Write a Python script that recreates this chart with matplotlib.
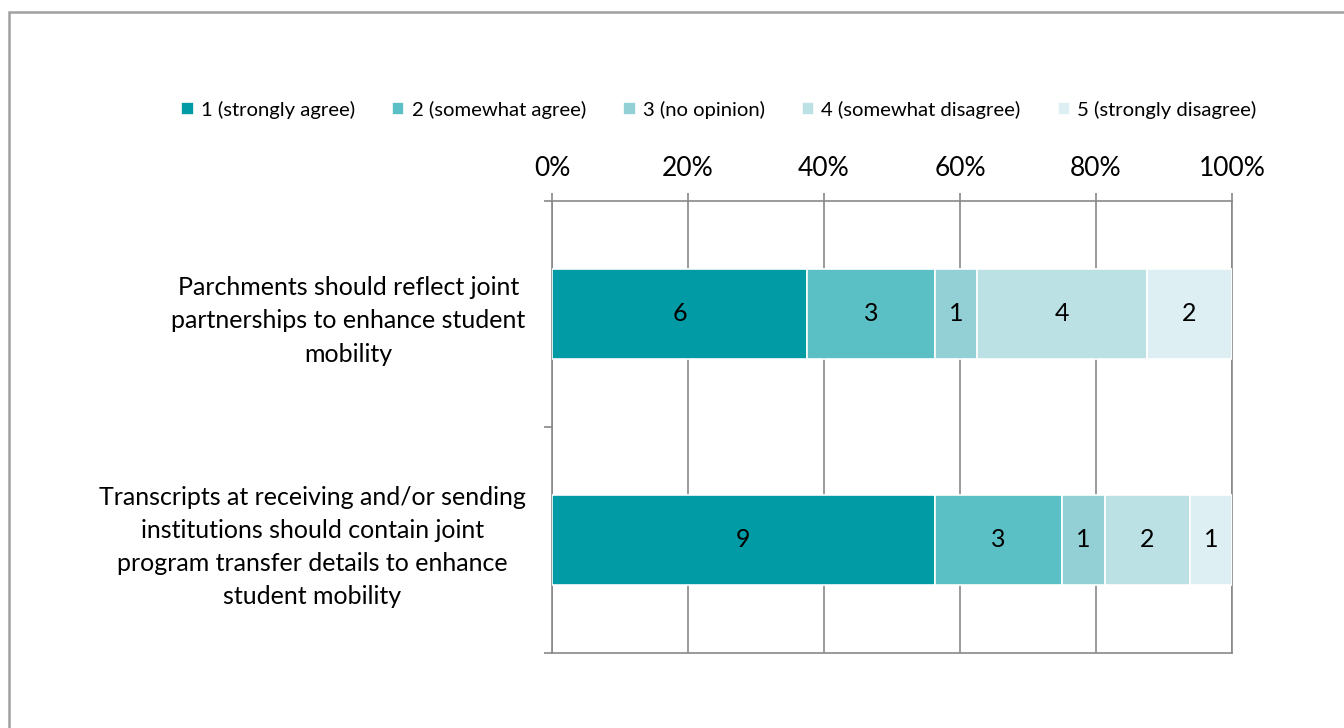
import matplotlib.pyplot as plt
from matplotlib.patches import Rectangle
import numpy as np

plt.rcParams["font.family"] = ["Lato", "DejaVu Sans"]

statements = [
    "Parchments should reflect joint\npartnerships to enhance student\nmobility",
    "Transcripts at receiving and/or sending\ninstitutions should contain joint\nprogram transfer details to enhance\nstudent mobility",
]
responses = [
    "1 (strongly agree)",
    "2 (somewhat agree)",
    "3 (no opinion)",
    "4 (somewhat disagree)",
    "5 (strongly disagree)",
]
# response counts per statement, one list per answer option
counts = [
    [6, 9],
    [3, 3],
    [1, 1],
    [4, 2],
    [2, 1],
]
colors = ["#009BA5", "#5BBFC6", "#93D0D6", "#BBE1E4", "#DDEFF2"]

counts = np.array(counts, dtype=float)
totals = counts.sum(axis=0)
shares = counts / totals * 100

fig = plt.figure(figsize=(13.44, 7.28), dpi=100)
ax = fig.add_axes([0.4107, 0.103, 0.506, 0.621])

y = np.arange(len(statements))
left = np.zeros(len(statements))
for i, label in enumerate(responses):
    bars = ax.barh(y, shares[i], left=left, height=0.4, color=colors[i],
                   edgecolor="white", linewidth=1.2, label=label, zorder=3)
    for rect, n in zip(bars, counts[i]):
        ax.text(rect.get_x() + rect.get_width() / 2, rect.get_y() + rect.get_height() / 2,
                f"{int(n)}", ha="center", va="center", fontsize=18, color="black", zorder=4)
    left += shares[i]

ax.set_xlim(0, 100)
ax.set_ylim(1.5, -0.5)
ax.xaxis.tick_top()
ax.set_xticks(np.arange(0, 101, 20))
ax.set_xticklabels([f"{v}%" for v in range(0, 101, 20)], fontsize=19)
ax.tick_params(axis="x", which="major", direction="out", length=6, width=1.2,
               color="#898989", pad=8)
ax.grid(axis="x", color="#898989", linewidth=1.2, zorder=0)

ax.set_yticks(y)
ax.set_yticklabels(statements, fontsize=18, multialignment="center", linespacing=1.53)
ax.set_yticks([-0.5, 0.5, 1.5], minor=True)
ax.tick_params(axis="y", which="major", length=0, pad=19)
ax.tick_params(axis="y", which="minor", length=6, width=1.2, color="#898989")

for spine in ax.spines.values():
    spine.set_color("#898989")
    spine.set_linewidth(1.2)

fig.legend(loc="center", bbox_to_anchor=(0.535, 0.849), ncol=5, frameon=False,
           fontsize=14.6, handlelength=0.6, handleheight=0.6, handletextpad=0.35,
           columnspacing=1.85)

# outer chart frame, open past the right and bottom edges
fig.patches.append(Rectangle((9 / 1344, -0.1), 1.2, 1.1 - 12 / 728,
                             transform=fig.transFigure, fill=False,
                             edgecolor="#A0A0A0", linewidth=1.8))

fig.savefig("out.png", dpi=100)
